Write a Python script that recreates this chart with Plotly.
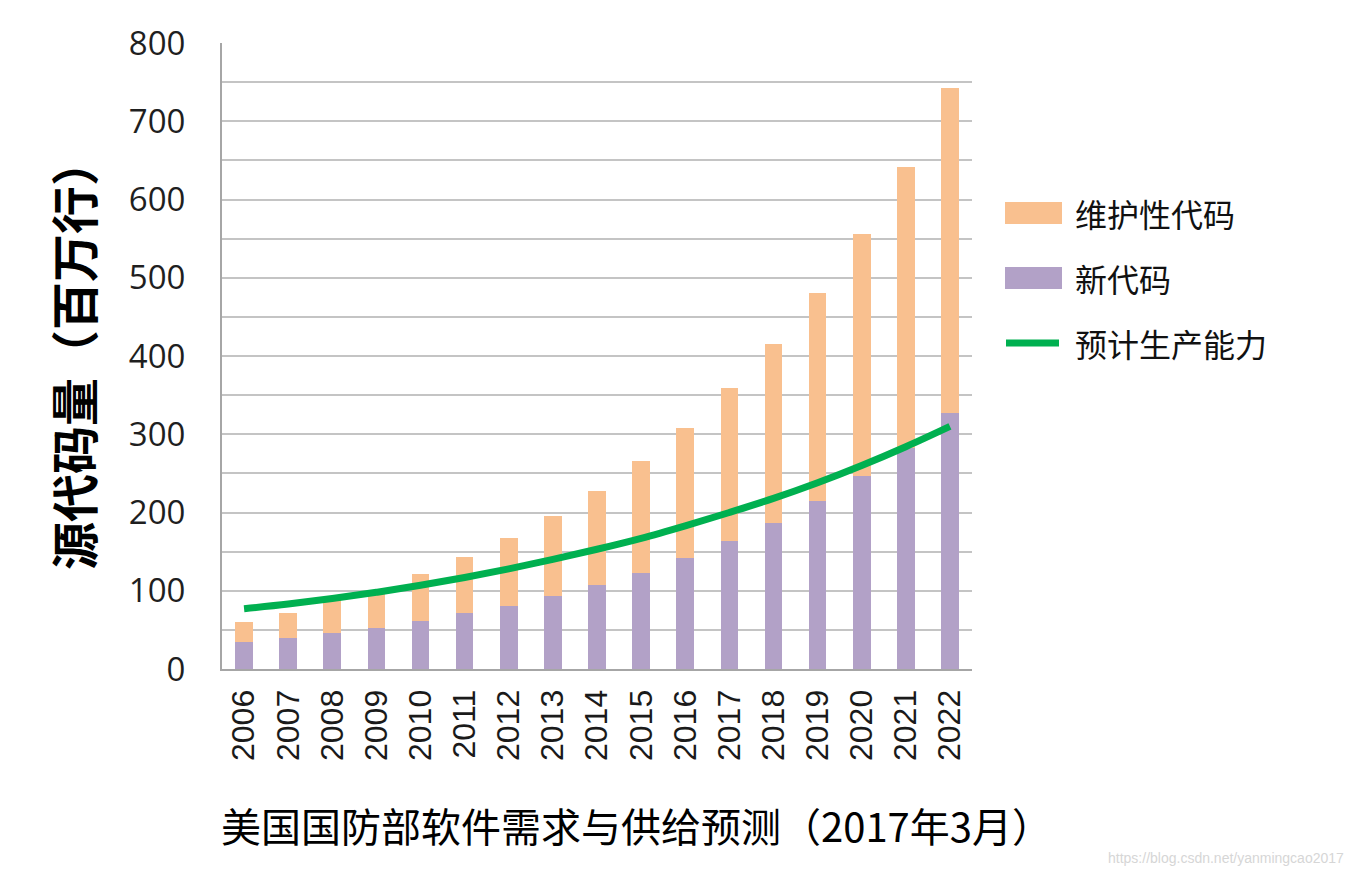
import plotly.graph_objects as go

years = [str(y) for y in range(2006, 2023)]
new_code = [35, 40, 46, 53, 61, 71, 81, 93, 107, 123, 142, 163, 187, 215, 247, 283, 327]
total_code = [60, 72, 88, 98, 121, 143, 168, 195, 228, 266, 308, 359, 415, 481, 556, 642, 742]
maint_code = [t - n for t, n in zip(total_code, new_code)]
capacity = [77, 83, 90, 98, 107, 117, 128, 140, 153, 167, 183, 200, 218, 238, 260, 284, 310]

y_ticks = list(range(0, 801, 50))
y_text = [str(v) if v % 100 == 0 else "" for v in y_ticks]

C_NEW = "#b2a1c7"
C_MAINT = "#f9c08f"
C_LINE = "#00b050"
CJK = "Noto Sans CJK SC"

fig = go.Figure()
fig.add_trace(go.Bar(x=years, y=new_code, name="新代码", marker_color=C_NEW,
                     marker_line_width=0, width=0.4))
fig.add_trace(go.Bar(x=years, y=maint_code, name="维护性代码", marker_color=C_MAINT,
                     marker_line_width=0, width=0.4))
fig.add_trace(go.Scatter(x=years, y=capacity, name="预计生产能力", mode="lines",
                         line=dict(color=C_LINE, width=7, shape="spline"), cliponaxis=False))

# page body has an 8px margin; work in figure coordinates
OFF = 8
L, R, T, B = 222 - OFF, 972 - OFF, 43 - OFF, 669 - OFF
W, H = 1353 - OFF, 877 - OFF

def px(x):
    return (x - OFF - L) / (R - L)

def py(y):
    return (B - (y - OFF)) / (B - T)

fig.update_layout(
    width=W, height=H, barmode="stack", showlegend=False,
    plot_bgcolor="white", paper_bgcolor="white",
    margin=dict(l=L, r=W - R, t=T, b=H - B, autoexpand=False),
    bargap=0.6,
)
fig.update_xaxes(
    type="category", range=[-0.5, 16.5], tickangle=-90,
    tickfont=dict(family="Liberation Sans, Arial", size=32, color="#1a1a1a"),
    showgrid=False, showline=True, linecolor="#a6a6a6", linewidth=2,
    ticks="", ticklabelstandoff=6,
)
fig.update_yaxes(
    range=[0, 800], tickvals=y_ticks, ticktext=y_text,
    tickfont=dict(family="Open Sans", size=33, color="#1f1f1f"),
    showgrid=True, gridcolor="#c4c4c4", gridwidth=2,
    showline=True, linecolor="#a6a6a6", linewidth=2, zeroline=False,
    ticks="", ticklabelstandoff=28,
)

shapes = []
annotations = []
leg = [("维护性代码", C_MAINT, "box", 213), ("新代码", C_NEW, "box", 278), ("预计生产能力", C_LINE, "line", 343)]
for label, color, kind, yc in leg:
    if kind == "box":
        shapes.append(dict(type="rect", xref="paper", yref="paper",
                           x0=px(1005), x1=px(1062), y0=py(yc + 11), y1=py(yc - 11),
                           fillcolor=color, line_width=0))
    else:
        shapes.append(dict(type="line", xref="paper", yref="paper",
                           x0=px(1006), x1=px(1059), y0=py(yc), y1=py(yc),
                           line=dict(color=color, width=7)))
    annotations.append(dict(text=label, xref="paper", yref="paper", x=px(1073), y=py(yc),
                            xanchor="left", yanchor="middle", showarrow=False,
                            font=dict(family=CJK, size=32, color="#111111")))

annotations.append(dict(text="<b>源代码量（百万行）</b>", xref="paper", yref="paper",
                        x=px(72), y=py(354), textangle=-90, showarrow=False,
                        xanchor="center", yanchor="middle",
                        font=dict(family=CJK, size=48, color="#000000")))
annotations.append(dict(text="美国国防部软件需求与供给预测（2017年3月）", xref="paper", yref="paper",
                        x=px(636), y=py(825), showarrow=False,
                        xanchor="center", yanchor="middle",
                        font=dict(family=CJK, size=40, color="#000000")))
annotations.append(dict(text="https://blog.csdn.net/yanmingcao2017", xref="paper", yref="paper",
                        x=px(1346), y=py(858), showarrow=False,
                        xanchor="right", yanchor="middle",
                        font=dict(family="Liberation Sans, Arial", size=14, color="#d6d6d6")))

fig.update_layout(shapes=shapes, annotations=annotations)
fig.write_html("out.html")
